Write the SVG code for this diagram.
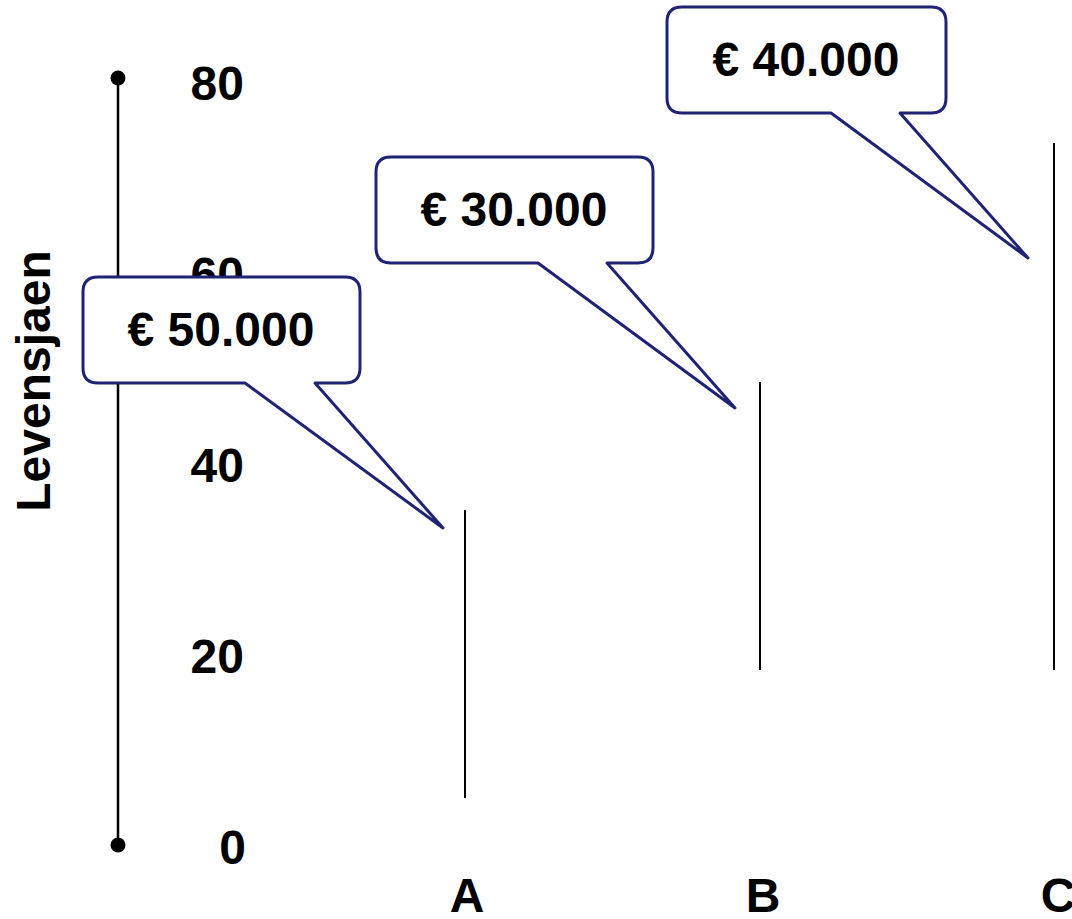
<svg xmlns="http://www.w3.org/2000/svg" width="1072" height="919" viewBox="0 0 1072 919">
<style>
.t{font-family:"Liberation Sans",Arial,sans-serif;font-weight:bold;font-size:48px;fill:#000}
.c{font-family:"Liberation Sans",Arial,sans-serif;font-weight:bold;font-size:48px;fill:#000;text-anchor:middle}
.ax{stroke:#000;stroke-width:2.5;fill:none}
.bar{stroke:#000;stroke-width:2;fill:none}
.call{fill:#fff;stroke:#1f2373;stroke-width:3;stroke-linejoin:round}
</style>
<g id="axis">
<line class="ax" x1="118" y1="78" x2="118" y2="845"/>
<circle cx="118" cy="78" r="7.5" fill="#000"/>
<circle cx="118" cy="845" r="7.5" fill="#000"/>
<text class="t" x="244" y="100" text-anchor="end">80</text>
<text class="t" x="244" y="291" text-anchor="end">60</text>
<text class="t" x="244" y="482" text-anchor="end">40</text>
<text class="t" x="244" y="673" text-anchor="end">20</text>
<text class="t" x="246" y="864" text-anchor="end">0</text>
<text class="t" transform="translate(50,381) rotate(-90)" text-anchor="middle">Levensjaen</text>
</g>
<g id="connectors">
<line class="bar" x1="465" y1="510" x2="465" y2="798"/>
<line class="bar" x1="760" y1="382" x2="760" y2="670"/>
<line class="bar" x1="1054" y1="143" x2="1054" y2="670"/>
</g>
<g id="labels">
<text class="t" x="467" y="912" text-anchor="middle">A</text>
<text class="t" x="763" y="912" text-anchor="middle">B</text>
<text class="t" x="1058" y="912" text-anchor="middle">C</text>
</g>
<g id="callout-50000">
<path class="call" d="M98,277 H345 Q360,277 360,292 V368 Q360,383 345,383 H315 L443,528 L245,383 H98 Q83,383 83,368 V292 Q83,277 98,277 Z"/>
<text class="c" x="221" y="346">€ 50.000</text>
</g>
<g id="callout-30000">
<path class="call" d="M391,157 H638 Q653,157 653,172 V248 Q653,263 638,263 H607 L735,408 L538,263 H391 Q376,263 376,248 V172 Q376,157 391,157 Z"/>
<text class="c" x="514" y="226">€ 30.000</text>
</g>
<g id="callout-40000">
<path class="call" d="M682,7 H931 Q946,7 946,22 V98 Q946,113 931,113 H900 L1028,258 L831,113 H682 Q667,113 667,98 V22 Q667,7 682,7 Z"/>
<text class="c" x="806" y="76">€ 40.000</text>
</g>
</svg>
